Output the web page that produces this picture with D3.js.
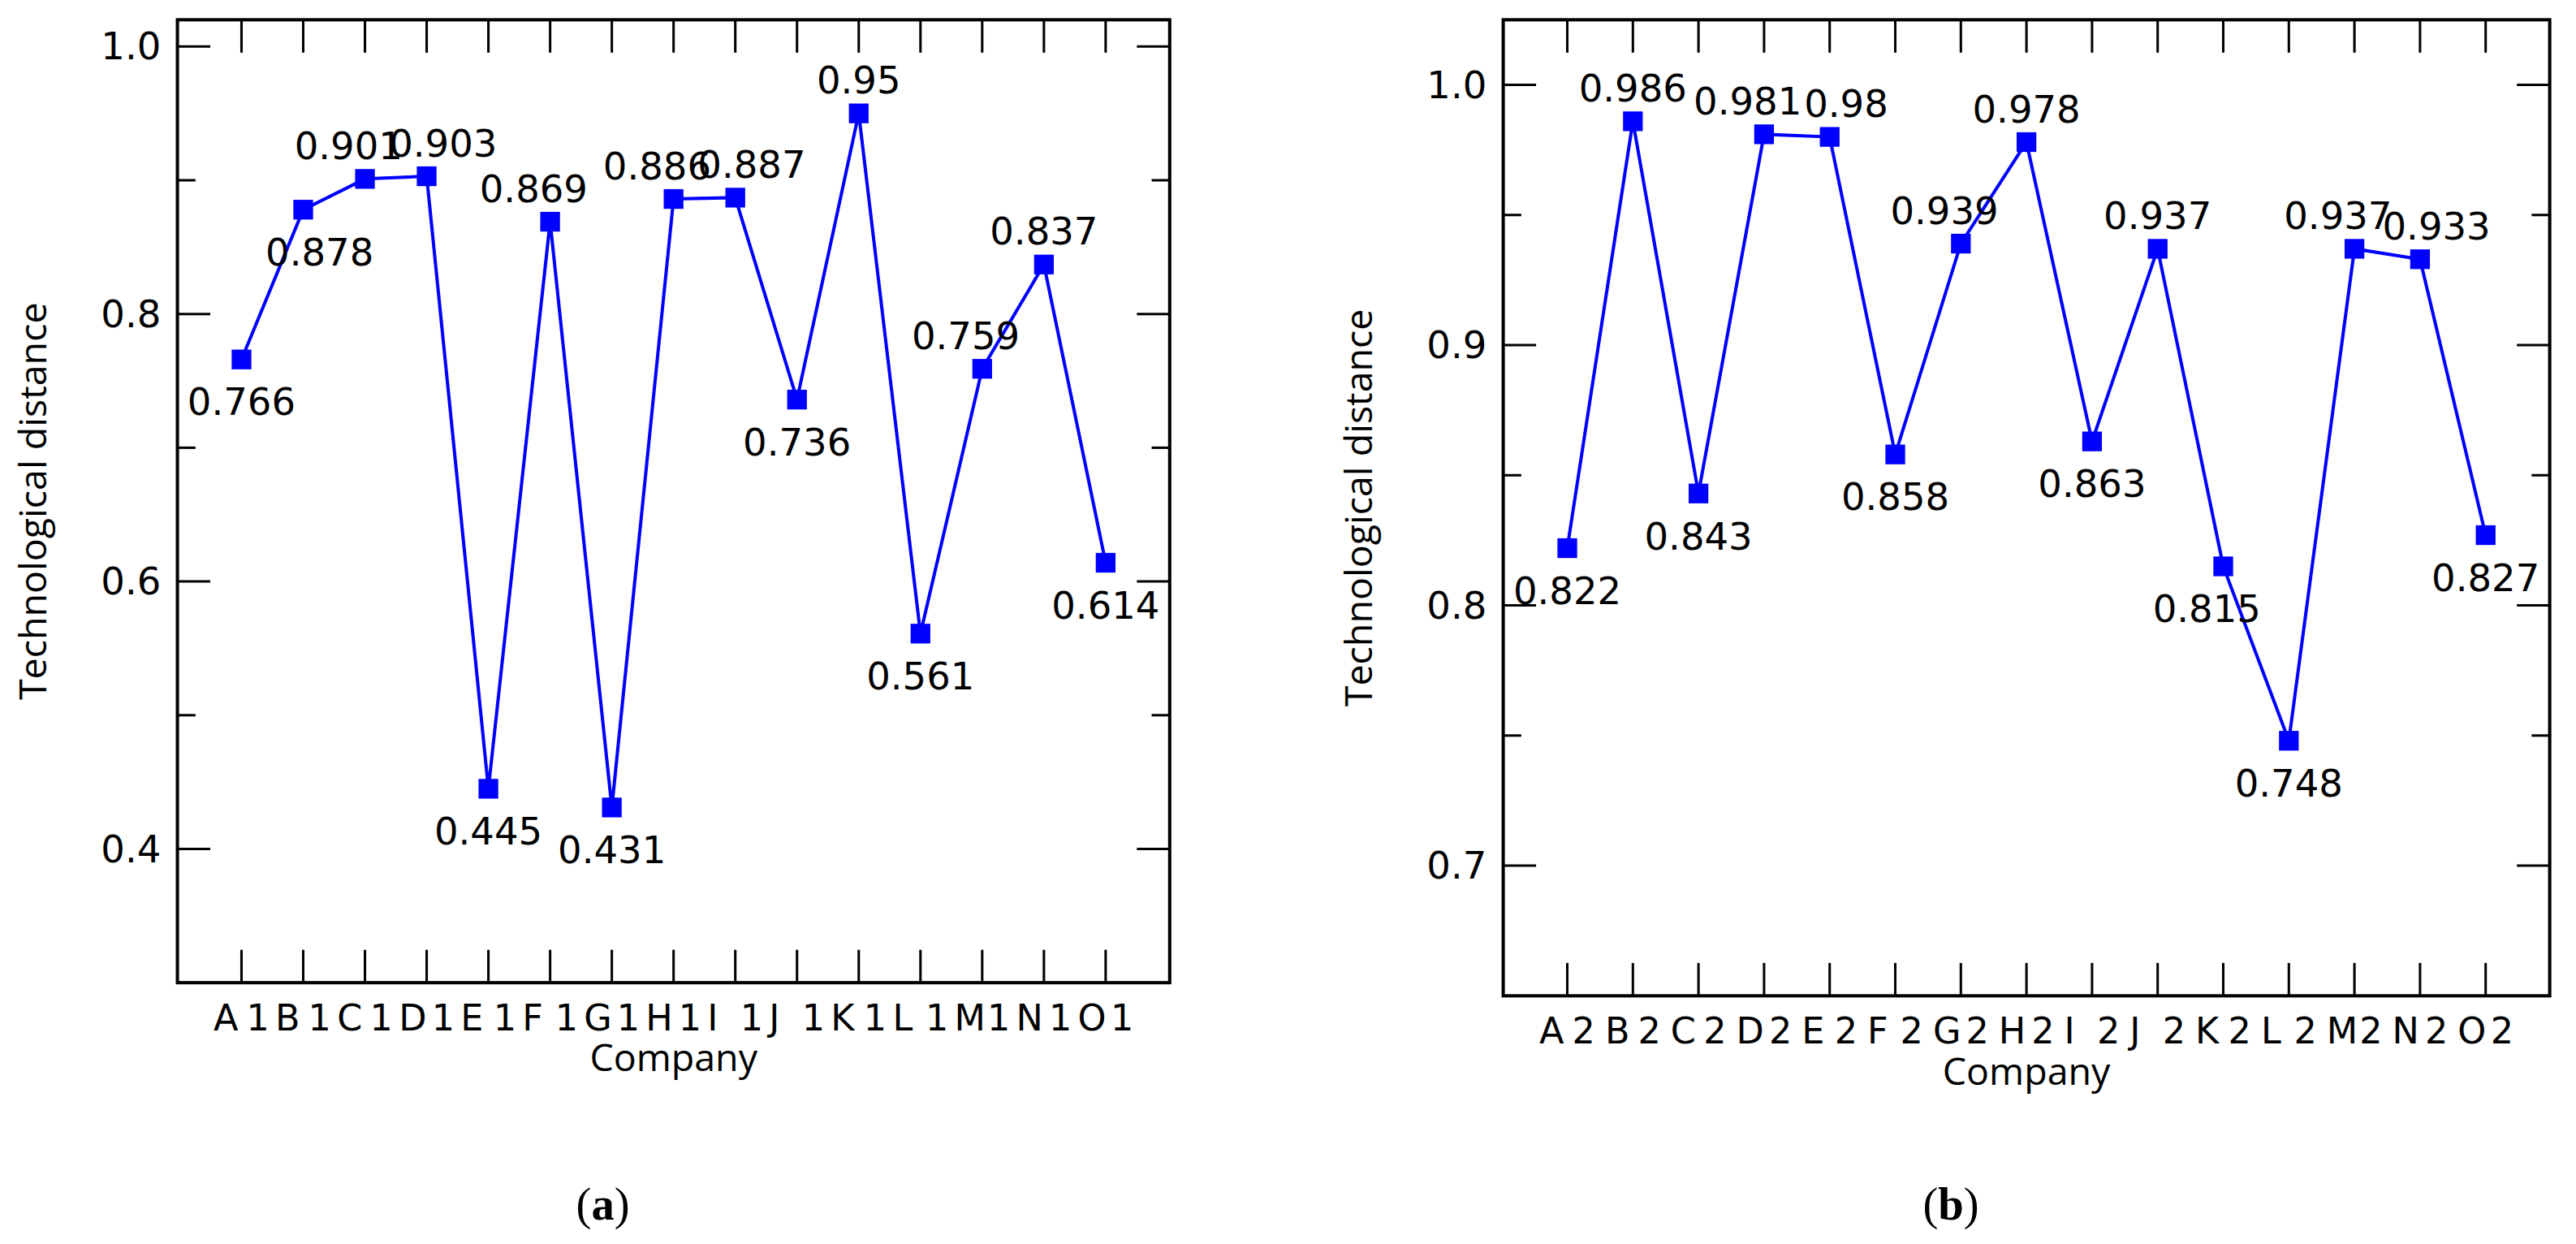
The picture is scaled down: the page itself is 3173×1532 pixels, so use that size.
<!DOCTYPE html>
<html><head><meta charset="utf-8">
<script src="https://cdn.jsdelivr.net/npm/d3@7"></script>
<style>body{margin:0;background:#fff}</style>
</head><body>
<script>
var catsA = ["A1","B1","C1","D1","E1","F1","G1","H1","I1","J1","K1","L1","M1","N1","O1"];
var valsA = [0.766,0.878,0.901,0.903,0.445,0.869,0.431,0.886,0.887,0.736,0.95,0.561,0.759,0.837,0.614];
var posA = ["b","br","al","ar","b","al","b","al","ar","b","a","b","al","a","b"];
var catsB = ["A2","B2","C2","D2","E2","F2","G2","H2","I2","J2","K2","L2","M2","N2","O2"];
var valsB = [0.822,0.986,0.843,0.981,0.98,0.858,0.939,0.978,0.863,0.937,0.815,0.748,0.937,0.933,0.827];
var posB = ["b","a","b","al","ar","b","al","a","b","a","bl","b","al","ar","b"];
var ticksA = [0.4,0.6,0.8,1.0], minorA = [0.5,0.7,0.9];
var ticksB = [0.7,0.8,0.9,1.0], minorB = [0.75,0.85,0.95];

var svg = d3.select("body").append("svg").attr("width",3173).attr("height",1532)
  .attr("viewBox","0 0 1568 757");

function panel(cfg){
  var g = svg.append("g");
  var x = d3.scalePoint().domain(cfg.cats).range([cfg.x0+cfg.pad, cfg.x1-cfg.pad]);
  var y = d3.scaleLinear().domain(cfg.dom).range([cfg.y1, cfg.y0]);
  g.append("rect").attr("x",cfg.x0).attr("y",cfg.y0).attr("width",cfg.x1-cfg.x0).attr("height",cfg.y1-cfg.y0)
    .attr("fill","none").attr("stroke","#000").attr("stroke-width",2);
  cfg.ticks.forEach(function(t){
    g.append("line").attr("x1",cfg.x0).attr("x2",cfg.x0+20).attr("y1",y(t)).attr("y2",y(t)).attr("stroke","#000").attr("stroke-width",1.5);
    g.append("line").attr("x1",cfg.x1).attr("x2",cfg.x1-20).attr("y1",y(t)).attr("y2",y(t)).attr("stroke","#000").attr("stroke-width",1.5);
    g.append("text").attr("x",cfg.x0-10).attr("y",y(t)+8).attr("text-anchor","end")
      .attr("font-family","DejaVu Sans").attr("font-size",23).text(d3.format(".1f")(t));
  });
  cfg.minor.forEach(function(t){
    g.append("line").attr("x1",cfg.x0).attr("x2",cfg.x0+11).attr("y1",y(t)).attr("y2",y(t)).attr("stroke","#000").attr("stroke-width",1.5);
    g.append("line").attr("x1",cfg.x1).attr("x2",cfg.x1-11).attr("y1",y(t)).attr("y2",y(t)).attr("stroke","#000").attr("stroke-width",1.5);
  });
  cfg.cats.forEach(function(c){
    g.append("line").attr("x1",x(c)).attr("x2",x(c)).attr("y1",cfg.y1).attr("y2",cfg.y1-20).attr("stroke","#000").attr("stroke-width",1.5);
    g.append("line").attr("x1",x(c)).attr("x2",x(c)).attr("y1",cfg.y0).attr("y2",cfg.y0+20).attr("stroke","#000").attr("stroke-width",1.5);
    g.append("text").attr("x",x(c)).attr("y",cfg.y1+29).attr("text-anchor","middle")
      .attr("font-family","DejaVu Sans").attr("font-size",22).attr("textLength",34).text(c);
  });
  var pts = cfg.cats.map(function(c,i){return [x(c), y(cfg.vals[i])];});
  g.append("path").attr("d",d3.line()(pts)).attr("fill","none").attr("stroke","#0000ff").attr("stroke-width",2);
  g.selectAll(".m").data(pts).enter().append("rect").attr("x",function(d){return d[0]-6;}).attr("y",function(d){return d[1]-6;})
    .attr("width",12).attr("height",12).attr("fill","#0000ff");
  cfg.cats.forEach(function(c,i){
    var p = cfg.pos[i], px = x(c), py = y(cfg.vals[i]);
    var dx = p[1]=="l" ? -10 : (p[1]=="r" ? 10 : 0);
    var ty = p[0]=="a" ? py-12 : py+34;
    g.append("text").attr("x",px+dx).attr("y",ty).attr("text-anchor","middle")
      .attr("font-family","DejaVu Sans").attr("font-size",23).text(String(cfg.vals[i]));
  });
  g.append("text").attr("x",(cfg.x0+cfg.x1)/2).attr("y",cfg.y1+54).attr("text-anchor","middle")
    .attr("font-family","Open Sans").attr("font-size",23).text("Company");
  var my = (cfg.y0+cfg.y1)/2;
  g.append("text").attr("transform","translate("+(cfg.x0-80)+","+my+") rotate(-90)").attr("text-anchor","middle")
    .attr("font-family","Open Sans").attr("font-size",23).text("Technological distance");
  var lab = g.append("text").attr("x",(cfg.x0+cfg.x1)/2+cfg.lx).attr("y",742).attr("text-anchor","middle")
    .attr("font-family","Liberation Serif").attr("font-size",28);
  lab.append("tspan").text("(");
  lab.append("tspan").attr("font-weight","bold").text(cfg.letter);
  lab.append("tspan").text(")");
}

panel({cats:catsA, vals:valsA, pos:posA, ticks:ticksA, minor:minorA, dom:[0.3,1.02],
  x0:108, x1:712, y0:12, y1:598, pad:39, letter:"a", lx:-43});
panel({cats:catsB, vals:valsB, pos:posB, ticks:ticksB, minor:minorB, dom:[0.65,1.025],
  x0:915, x1:1552, y0:12, y1:606, pad:39, letter:"b", lx:-46});
</script>
</body></html>
